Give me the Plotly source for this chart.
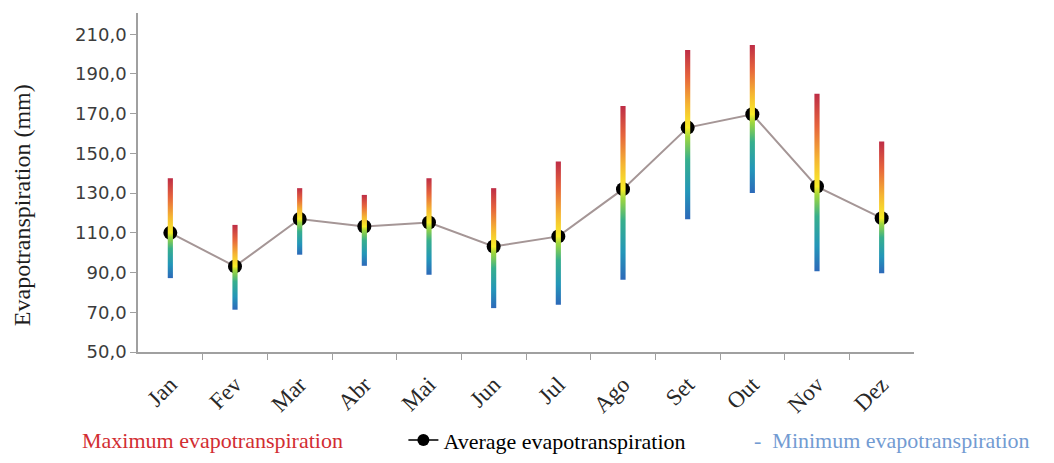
import plotly.graph_objects as go

months = ["Jan", "Fev", "Mar", "Abr", "Mai", "Jun", "Jul", "Ago", "Set", "Out", "Nov", "Dez"]
avg_et = [110.0, 93.1, 117.0, 113.2, 115.2, 103.1, 108.2, 132.0, 163.0, 169.7, 133.3, 117.4]
max_et = [137.5, 114.0, 132.5, 129.1, 137.5, 132.5, 145.9, 173.9, 202.1, 204.6, 180.0, 156.0]
min_et = [87.2, 71.3, 99.0, 93.4, 88.9, 72.1, 73.8, 86.4, 116.9, 130.0, 90.6, 89.7]
y_ticks = [50, 70, 90, 110, 130, 150, 170, 190, 210]

SERIF = "Liberation Serif"
x_idx = list(range(len(months)))

fig = go.Figure()

# average line + markers (drawn under the range bars)
fig.add_trace(go.Scatter(
    x=x_idx, y=avg_et, mode="lines+markers",
    line=dict(color="rgb(165,150,150)", width=2),
    marker=dict(color="black", size=14, symbol="circle"),
    showlegend=False, hoverinfo="skip",
))

# gradient range bars (min -> max), yellow at the average
half_w = 0.04
for i, (a, hi, lo) in enumerate(zip(avg_et, max_et, min_et)):
    f = (a - lo) / (hi - lo)
    cs = [
        [0.0, "rgb(45,105,185)"],
        [f * 0.3, "rgb(35,150,185)"],
        [f * 0.65, "rgb(55,175,140)"],
        [f * 0.9, "rgb(160,215,60)"],
        [f, "rgb(248,238,40)"],
        [f + (1 - f) * 0.3, "rgb(245,180,50)"],
        [f + (1 - f) * 0.65, "rgb(230,100,60)"],
        [1.0, "rgb(190,45,70)"],
    ]
    fig.add_trace(go.Scatter(
        x=[i - half_w, i + half_w, i + half_w, i - half_w, i - half_w],
        y=[lo, lo, hi, hi, lo],
        mode="lines", fill="toself",
        line=dict(width=0),
        fillgradient=dict(type="vertical", colorscale=cs, start=lo, stop=hi),
        showlegend=False, hoverinfo="skip",
    ))

# legend-only entry for average
fig.add_trace(go.Scatter(
    x=[None], y=[None], mode="lines+markers",
    line=dict(color="rgb(60,60,60)", width=2),
    marker=dict(color="black", size=12),
    name="Average evapotranspiration", showlegend=True,
))

fig.update_layout(
    width=1054, height=463,
    margin=dict(l=138, r=140, t=13, b=111, autoexpand=False),
    plot_bgcolor="white", paper_bgcolor="white",
    showlegend=True,
    legend=dict(
        orientation="h", x=0.342, xanchor="left", y=-0.26, yanchor="middle",
        font=dict(family=SERIF, size=22, color="black"),
        bgcolor="rgba(0,0,0,0)", borderwidth=0,
    ),
    xaxis=dict(
        range=[-0.5, len(months) - 0.5],
        tickvals=x_idx, ticktext=months, tickangle=-45,
        ticks="", showgrid=False, zeroline=False,
        showline=True, linecolor="rgb(160,160,160)", linewidth=2,
        ticklabelstandoff=8,
        tickfont=dict(family=SERIF, size=23, color="rgb(40,40,40)"),
        minor=dict(tickvals=[i + 0.5 for i in x_idx[:-1]], ticks="outside",
                   ticklen=6, tickcolor="rgb(160,160,160)", tickwidth=1),
    ),
    yaxis=dict(
        range=[50, 220.7],
        tickvals=y_ticks,
        ticktext=[f"{v:.1f}".replace(".", ",") for v in y_ticks],
        ticks="outside", ticklen=6, tickcolor="rgb(160,160,160)",
        showgrid=False, zeroline=False,
        showline=True, linecolor="rgb(160,160,160)", linewidth=1.5,
        tickfont=dict(family="DejaVu Sans", size=18, color="rgb(60,60,60)"),
    ),
    annotations=[
        dict(text="Evapotranspiration (mm)", textangle=-90,
             xref="paper", yref="paper", x=-0.150, y=0.432,
             xanchor="center", yanchor="middle", showarrow=False,
             font=dict(family=SERIF, size=24, color="rgb(30,30,30)")),
        dict(text="Maximum evapotranspiration",
             xref="paper", yref="paper", x=-0.0747, y=-0.26,
             xanchor="left", yanchor="middle", showarrow=False,
             font=dict(family=SERIF, size=22, color="rgb(210,45,50)")),
        dict(text="-  Minimum evapotranspiration",
             xref="paper", yref="paper", x=0.791, y=-0.26,
             xanchor="left", yanchor="middle", showarrow=False,
             font=dict(family=SERIF, size=22, color="rgb(115,155,210)")),
    ],
)

fig.write_html("out.html")
